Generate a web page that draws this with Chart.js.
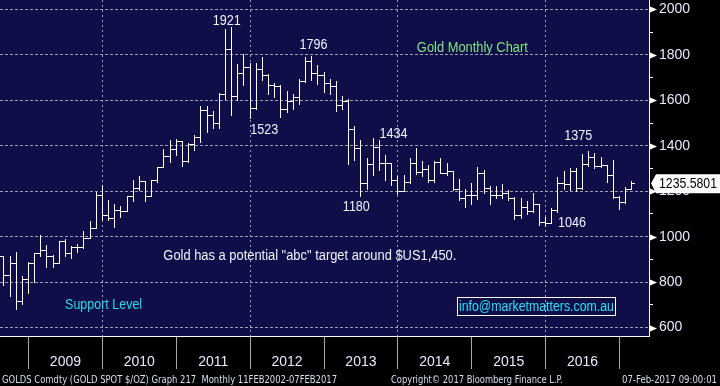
<!DOCTYPE html>
<html>
<head>
<meta charset="utf-8">
<title>Gold Monthly Chart</title>
<script src="https://cdn.jsdelivr.net/npm/chart.js@4.4.1/dist/chart.umd.min.js"></script>
<style>
  html, body { margin: 0; padding: 0; background: #000; }
  #chart { display: block; }
</style>
</head>
<body>
<canvas id="chart" width="720" height="386"></canvas>
<script>
/* global Chart */

// monthly bars, Aug 2008 .. Feb 2017
const firstYear = 2008;
const firstMonth = 7; // August

const opens = [
  914, 830, 884, 716, 815,
  882, 927, 942, 916, 884, 979, 927, 954, 955, 996, 1040, 1182,
  1097, 1081, 1118, 1115, 1179, 1213, 1244, 1181, 1248, 1307, 1357, 1386,
  1421, 1333, 1410, 1439, 1556, 1536, 1500, 1628, 1826, 1620, 1722, 1746,
  1565, 1740, 1710, 1669, 1664, 1561, 1599, 1614, 1687, 1772, 1720, 1713,
  1675, 1663, 1578, 1597, 1472, 1392, 1234, 1322, 1396, 1326, 1323, 1250,
  1202, 1240, 1326, 1284, 1296, 1250, 1327, 1282, 1287, 1208, 1172, 1182,
  1184, 1279, 1213, 1183, 1184, 1190, 1172, 1095, 1132, 1115, 1142, 1064,
  1061, 1118, 1235, 1233, 1291, 1214, 1321, 1351, 1309, 1316, 1273, 1173,
  1151, 1211
];
const highs = [
  916, 913, 934, 826, 889,
  928, 1006, 963, 917, 981, 990, 960, 967, 1024, 1070, 1195, 1227,
  1162, 1142, 1136, 1180, 1249, 1265, 1245, 1251, 1308, 1388, 1424, 1431,
  1423, 1411, 1447, 1576, 1577, 1553, 1632, 1913, 1921, 1761, 1803, 1764,
  1764, 1791, 1715, 1677, 1667, 1641, 1630, 1692, 1790, 1796, 1755, 1723,
  1695, 1685, 1617, 1604, 1488, 1424, 1348, 1434, 1424, 1361, 1326, 1267,
  1270, 1345, 1392, 1331, 1315, 1332, 1345, 1323, 1287, 1255, 1208, 1238,
  1307, 1293, 1224, 1224, 1232, 1205, 1174, 1170, 1157, 1191, 1142, 1088,
  1128, 1263, 1287, 1304, 1303, 1362, 1375, 1367, 1352, 1317, 1338, 1181,
  1220, 1243
];
const lows = [
  786, 740, 681, 705, 752,
  802, 915, 865, 865, 882, 913, 904, 933, 952, 995, 1040, 1075,
  1072, 1044, 1088, 1114, 1155, 1206, 1155, 1178, 1241, 1306, 1330, 1360,
  1309, 1330, 1381, 1418, 1462, 1478, 1478, 1604, 1535, 1601, 1668, 1523,
  1562, 1691, 1627, 1613, 1527, 1547, 1564, 1583, 1680, 1691, 1672, 1635,
  1626, 1555, 1563, 1321, 1338, 1180, 1208, 1271, 1292, 1251, 1226, 1187,
  1202, 1238, 1277, 1268, 1240, 1240, 1282, 1273, 1206, 1161, 1131, 1142,
  1167, 1191, 1142, 1170, 1170, 1162, 1077, 1080, 1099, 1107, 1052, 1046,
  1060, 1107, 1208, 1207, 1199, 1208, 1311, 1301, 1305, 1241, 1171, 1123,
  1146, 1211
];
const closes = [
  830, 884, 716, 815, 882,
  927, 942, 916, 884, 979, 927, 954, 955, 996, 1040, 1182, 1097,
  1081, 1118, 1115, 1179, 1213, 1244, 1181, 1248, 1307, 1357, 1386, 1421,
  1333, 1410, 1439, 1556, 1536, 1500, 1628, 1826, 1620, 1722, 1746, 1565,
  1740, 1710, 1669, 1664, 1561, 1599, 1614, 1687, 1772, 1720, 1713, 1675,
  1663, 1578, 1597, 1472, 1392, 1234, 1322, 1396, 1326, 1323, 1250, 1202,
  1240, 1326, 1284, 1296, 1250, 1327, 1282, 1287, 1208, 1172, 1182, 1184,
  1279, 1213, 1183, 1184, 1190, 1172, 1095, 1132, 1115, 1142, 1064, 1061,
  1118, 1235, 1233, 1291, 1214, 1321, 1351, 1309, 1316, 1273, 1173, 1151,
  1211, 1235.5801
];

const yearLabels = ['2009', '2010', '2011', '2012', '2013', '2014', '2015', '2016'];
const yearLines = [2009, 2010, 2011, 2012, 2013, 2014, 2015, 2016, 2017];
const dottedYears = [2010, 2012, 2014, 2016];
const priceTicks = [600, 700, 800, 900, 1000, 1100, 1200, 1300, 1400, 1500, 1600, 1700, 1800, 1900, 2000];

// text notes placed in (bar index, price) space
const notes = [
  { text: '1921', i: 36.2, v: 1932, color: '#eef1ff', w: 28 },
  { text: '1796', i: 50.3, v: 1826, color: '#eef1ff', w: 28 },
  { text: '1523', i: 42.3, v: 1453, color: '#eef1ff', w: 28 },
  { text: '1434', i: 63.3, v: 1434, color: '#eef1ff', w: 28 },
  { text: '1180', i: 57.25, v: 1112, color: '#eef1ff', w: 27 },
  { text: '1375', i: 93.3, v: 1424, color: '#eef1ff', w: 28 },
  { text: '1046', i: 92.3, v: 1041, color: '#eef1ff', w: 28 },
  { text: 'Gold Monthly Chart', i: 76.1, v: 1813, color: '#80e47f', w: 111 },
  { text: 'Gold has a potential "abc" target around $US1,450.', i: 49.7, v: 897, color: '#eef1ff', w: 293 },
  { text: 'Support Level', i: 16.2, v: 680, color: '#1fdcec', w: 77 }
];
const email = { text: 'info@marketmatters.com.au', i: 86.5, v: 673, w: 155 };

// index of the December bar that closes a year (bars sit on their month end)
function yearEndIndex(year) {
  return (year - 1 - firstYear) * 12 + (11 - firstMonth);
}

const bars = closes.map(function (c, i) {
  return { x: i, y: c, o: opens[i], h: highs[i], l: lows[i] };
});

const navy = '#100e48';
const gridGrey = '#9d9db0';
const labelFont = { family: 'Liberation Sans, Arial, sans-serif', size: 14 };

const backdrop = {
  id: 'backdrop',
  beforeDraw(chart) {
    const { ctx, chartArea: a } = chart;
    ctx.save();
    ctx.fillStyle = '#000';
    ctx.fillRect(0, 0, chart.width, chart.height);
    ctx.fillStyle = navy;
    ctx.fillRect(a.left, a.top, a.right - a.left, a.bottom - a.top);
    ctx.restore();
  }
};

const ohlcBars = {
  id: 'ohlcBars',
  afterDatasetsDraw(chart) {
    const ctx = chart.ctx;
    const y = chart.scales.y;
    const meta = chart.getDatasetMeta(0);
    ctx.save();
    ctx.strokeStyle = '#ffffff';
    ctx.lineWidth = 1;
    ctx.beginPath();
    meta.data.forEach(function (pt, i) {
      const d = bars[i];
      const px = Math.round(pt.x - 0.5) + 0.5;
      const hi = Math.round(y.getPixelForValue(d.h));
      const lo = Math.round(y.getPixelForValue(d.l));
      const op = Math.round(y.getPixelForValue(d.o)) + 0.5;
      const cl = Math.round(y.getPixelForValue(d.y)) + 0.5;
      ctx.moveTo(px, hi);
      ctx.lineTo(px, lo + 1);
      ctx.moveTo(px - 3.5, op);
      ctx.lineTo(px + 0.5, op);
      ctx.moveTo(px - 0.5, cl);
      ctx.lineTo(px + 3.5, cl);
    });
    ctx.stroke();
    ctx.restore();
  }
};

const decorations = {
  id: 'decorations',
  afterDraw(chart) {
    const { ctx, scales: { x, y }, chartArea: a } = chart;
    ctx.save();

    // arrow heads on the 200 ticks
    ctx.fillStyle = '#ffffff';
    priceTicks.forEach(function (v) {
      if (v % 200 !== 0) return;
      const py = Math.round(y.getPixelForValue(v)) + 0.5;
      ctx.beginPath();
      ctx.moveTo(a.right, py - 3.5);
      ctx.lineTo(a.right + 8, py);
      ctx.lineTo(a.right, py + 3.5);
      ctx.closePath();
      ctx.fill();
    });

    // notes
    ctx.font = '14px "Liberation Sans", Arial, sans-serif';
    ctx.textAlign = 'center';
    ctx.textBaseline = 'alphabetic';
    notes.forEach(function (n) {
      ctx.fillStyle = n.color;
      ctx.fillText(n.text, x.getPixelForValue(n.i), y.getPixelForValue(n.v), n.w);
    });

    const ex = x.getPixelForValue(email.i);
    const ey = y.getPixelForValue(email.v);
    ctx.fillStyle = '#1fe2f2';
    ctx.fillText(email.text, ex, ey, email.w);
    ctx.strokeStyle = '#ffffff';
    ctx.lineWidth = 1;
    ctx.strokeRect(Math.round(ex - 79) + 0.5, Math.round(ey - 14) + 0.5, 158, 18);

    // last price tag
    const last = closes[closes.length - 1];
    const ty = y.getPixelForValue(last);
    ctx.fillStyle = '#ffffff';
    ctx.beginPath();
    ctx.moveTo(a.right + 2, ty);
    ctx.lineTo(a.right + 7, ty - 9);
    ctx.lineTo(chart.width, ty - 9);
    ctx.lineTo(chart.width, ty + 10);
    ctx.lineTo(a.right + 7, ty + 10);
    ctx.closePath();
    ctx.fill();
    ctx.fillStyle = '#000000';
    ctx.textAlign = 'left';
    ctx.textBaseline = 'middle';
    ctx.fillText(last.toFixed(4), a.right + 10, ty + 1, 58);

    // footer
    ctx.fillStyle = '#d6deef';
    ctx.font = '10px "DejaVu Sans", sans-serif';
    ctx.textBaseline = 'alphabetic';
    ctx.fillText('GOLDS Comdty (GOLD SPOT $/OZ) Graph 217  Monthly 11FEB2002-07FEB2017', 2, 383, 335);
    ctx.fillText('Copyright\u00a9 2017 Bloomberg Finance L.P.', 391, 383, 172);
    ctx.fillText('07-Feb-2017 09:00:01', 622, 383, 95);
    ctx.restore();
  }
};

const lineIdx = yearLines.map(yearEndIndex);
const dottedIdx = dottedYears.map(yearEndIndex);
const labelIdx = yearLabels.map(function (yr) { return yearEndIndex(+yr) + 6; });

new Chart(document.getElementById('chart'), {
  type: 'scatter',
  data: {
    datasets: [{
      label: 'GOLDS Comdty',
      data: bars,
      pointRadius: 0,
      showLine: false
    }]
  },
  plugins: [backdrop, ohlcBars, decorations],
  options: {
    responsive: false,
    devicePixelRatio: 1,
    animation: false,
    events: [],
    layout: { padding: 0 },
    plugins: {
      legend: { display: false },
      tooltip: { enabled: false }
    },
    scales: {
      x: {
        type: 'linear',
        position: 'bottom',
        min: -0.63,
        max: 104.79,
        afterBuildTicks(axis) {
          axis.ticks = lineIdx.concat(labelIdx).sort(function (a, b) { return a - b; })
            .map(function (v) { return { value: v }; });
        },
        afterFit(axis) {
          axis.height = 50;
          axis.paddingLeft = 0;
          axis.paddingRight = 0;
        },
        grid: {
          color: function (c) {
            return c.tick && dottedIdx.indexOf(c.tick.value) >= 0 ? gridGrey : 'transparent';
          },
          tickColor: function (c) {
            return c.tick && lineIdx.indexOf(c.tick.value) >= 0 ? '#a9a9a9' : 'transparent';
          },
          tickLength: 33,
          lineWidth: 1
        },
        border: { display: true, color: '#ffffff', width: 1, dash: [2, 3] },
        ticks: {
          autoSkip: false,
          maxRotation: 0,
          padding: -15,
          color: '#e6eaff',
          font: labelFont,
          callback: function (v) {
            const k = labelIdx.indexOf(v);
            return k >= 0 ? yearLabels[k] : '';
          }
        }
      },
      y: {
        type: 'linear',
        position: 'right',
        min: 562.6,
        max: 2041.8,
        afterBuildTicks(axis) {
          axis.ticks = priceTicks.map(function (v) { return { value: v }; });
        },
        afterFit(axis) {
          axis.width = 71;
          axis.paddingTop = 0;
          axis.paddingBottom = 0;
        },
        grid: {
          color: function (c) {
            return c.tick && c.tick.value % 200 === 0 ? gridGrey : 'transparent';
          },
          tickColor: '#ffffff',
          tickLength: 4,
          lineWidth: 1
        },
        border: { display: true, color: '#ffffff', width: 1, dash: [3, 2] },
        ticks: {
          autoSkip: false,
          padding: 6,
          color: '#e6eaff',
          font: labelFont,
          callback: function (v) {
            return v % 200 === 0 ? String(v) : '';
          }
        }
      }
    }
  }
});
</script>
</body>
</html>
